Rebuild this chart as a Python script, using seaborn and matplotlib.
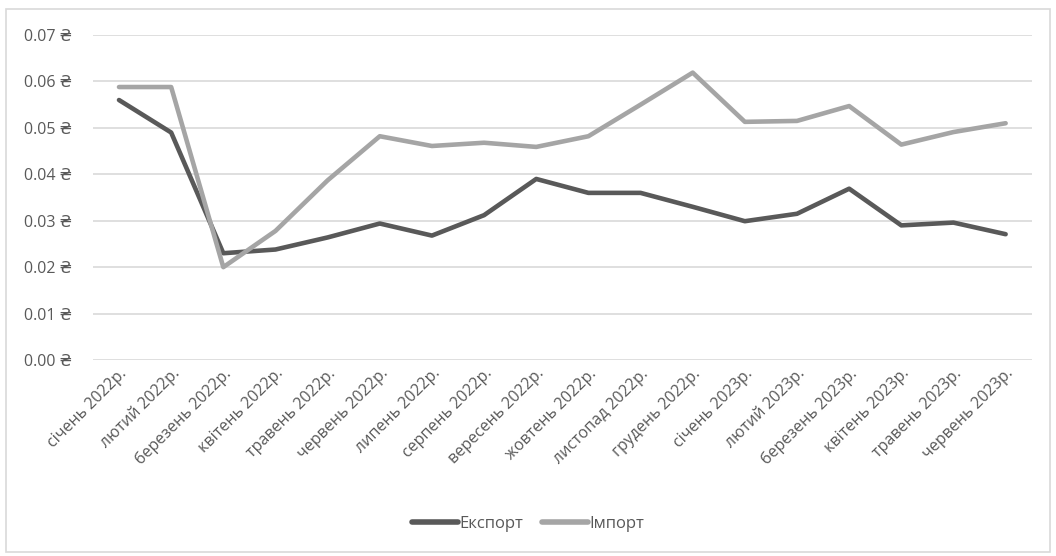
import matplotlib
matplotlib.use("Agg")
import matplotlib.pyplot as plt
import seaborn as sns
import pandas as pd
from matplotlib.patches import Rectangle
from matplotlib.ticker import FuncFormatter

months = ["січень 2022р.", "лютий 2022р.", "березень 2022р.", "квітень 2022р.",
          "травень 2022р.", "червень 2022р.", "липень 2022р.", "серпень 2022р.",
          "вересень 2022р.", "жовтень 2022р.", "листопад 2022р.", "грудень 2022р.",
          "січень 2023р.", "лютий 2023р.", "березень 2023р.", "квітень 2023р.",
          "травень 2023р.", "червень 2023р."]
export_vals = [0.0560, 0.0490, 0.0230, 0.0238, 0.0264, 0.0294, 0.0268, 0.0312,
               0.0390, 0.0360, 0.0360, 0.0330, 0.0299, 0.0315, 0.0369, 0.0290,
               0.0296, 0.0271]
import_vals = [0.0588, 0.0588, 0.0200, 0.0278, 0.0387, 0.0482, 0.0461, 0.0468,
               0.0459, 0.0482, 0.0550, 0.0619, 0.0513, 0.0515, 0.0547, 0.0464,
               0.0491, 0.0510]
series_names = ["Експорт", "Імпорт"]
colors = ["#595959", "#A5A5A5"]

sns.set_theme(style="white")
plt.rcParams['font.family'] = ['Open Sans', 'DejaVu Sans']

df = pd.DataFrame({
    "x": list(range(len(months))) * 2,
    "value": export_vals + import_vals,
    "series": [series_names[0]] * len(months) + [series_names[1]] * len(months),
})

fig = plt.figure(figsize=(10.56, 5.56), dpi=100)
ax = fig.add_axes([0.088, 0.3525, 0.889, 0.5845])

sns.lineplot(data=df, x="x", y="value", hue="series", palette=colors,
             linewidth=3.3, ax=ax, legend=True)

ax.set_xlim(-0.5, len(months) - 0.5)
ax.set_ylim(0, 0.07)
ax.set_yticks([i / 100 for i in range(8)])
ax.yaxis.set_major_formatter(FuncFormatter(lambda v, p: f"{v:.2f} ₴"))
ax.set_xticks(range(len(months)))
ax.set_xticklabels(months, rotation=45, ha="right", rotation_mode="anchor")
ax.tick_params(axis="x", labelsize=11.5, colors="#595959", length=0, pad=4)
ax.tick_params(axis="y", labelsize=11.5, colors="#595959", length=0, pad=15)
ax.grid(axis="y", color="#D9D9D9", linewidth=1.2)
ax.set_axisbelow(True)
for s in ax.spines.values():
    s.set_visible(False)
ax.set_xlabel("")
ax.set_ylabel("")

handles, labels = ax.get_legend_handles_labels()
for h in handles:
    h.set_linewidth(4)
ax.legend_.remove()
fig.legend(handles, labels, loc="center", bbox_to_anchor=(0.5, 0.057), ncol=2,
           frameon=False, fontsize=12, handlelength=2.75, handletextpad=0.1,
           columnspacing=1.1, labelcolor="#595959")

fig.patches.append(Rectangle((0.006, 0.008), 0.988, 0.975, transform=fig.transFigure,
                             fill=False, edgecolor="#D9D9D9", linewidth=1.2))

fig.savefig("out.png", dpi=100, facecolor="white")
